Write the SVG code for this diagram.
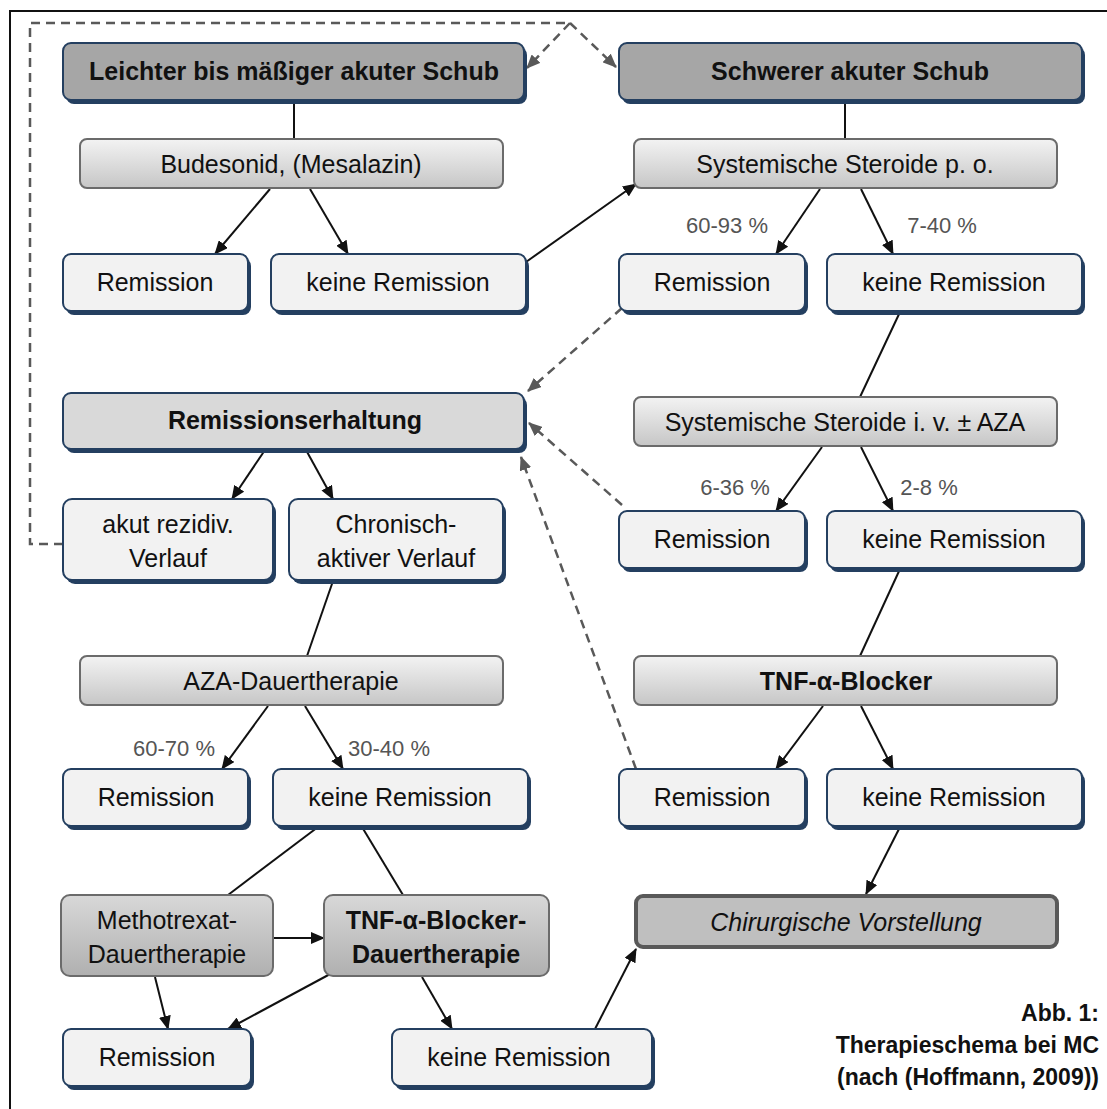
<svg xmlns="http://www.w3.org/2000/svg" width="1107" height="1109" viewBox="0 0 1107 1109">
<defs>
<linearGradient id="gg" x1="0" y1="0" x2="0" y2="1">
<stop offset="0" stop-color="#f3f3f3"/><stop offset="1" stop-color="#c6c6c6"/>
</linearGradient>
<linearGradient id="gd" x1="0" y1="0" x2="0" y2="1">
<stop offset="0" stop-color="#d8d8d8"/><stop offset="1" stop-color="#b0b0b0"/>
</linearGradient>
<marker id="ab" viewBox="0 0 14 12" refX="13" refY="6" markerWidth="14" markerHeight="12" markerUnits="userSpaceOnUse" orient="auto">
<path d="M0,0 L14,6 L0,12 Z" fill="#111"/>
</marker>
<marker id="ag" viewBox="0 0 14 12" refX="13" refY="6" markerWidth="14" markerHeight="12" markerUnits="userSpaceOnUse" orient="auto">
<path d="M0,0 L14,6 L0,12 Z" fill="#595959"/>
</marker>
</defs>
<style>
text{font-family:"Liberation Sans",Arial,sans-serif;font-size:25px;fill:#111;text-anchor:middle}
.b{font-weight:bold}
.i{font-style:italic}
.pc{font-size:22px;fill:#555}
.cap{font-size:23px;font-weight:bold;text-anchor:end}
.sh{fill:#243f60}
.nv{fill:#f2f2f2;stroke:#243f60;stroke-width:2}
.hd{fill:#a6a6a6;stroke:#243f60;stroke-width:2}
.re{fill:#d9d9d9;stroke:#243f60;stroke-width:2}
.gr{fill:url(#gg);stroke:#6b6b6b;stroke-width:2}
.gd{fill:url(#gd);stroke:#6b6b6b;stroke-width:2}
.ch{fill:#bfbfbf;stroke:#595959;stroke-width:4}
.ln{stroke:#111;stroke-width:2;fill:none}
.ar{stroke:#111;stroke-width:2;fill:none;marker-end:url(#ab)}
.da{stroke:#595959;stroke-width:2.5;fill:none;stroke-dasharray:9 6}
.dm{marker-end:url(#ag)}
</style>
<rect width="1107" height="1109" fill="#fff"/>
<path d="M10,1109 V11 H1107" fill="none" stroke="#111" stroke-width="2"/>

<g id="connectors">
<path class="da" d="M63,544 H30 V23 H570"/>
<path class="da dm" d="M570,23 L527,68"/>
<path class="da dm" d="M570,23 L616,67"/>
<path class="da dm" d="M622,308 L528,391"/>
<path class="da dm" d="M622,505 L529,423"/>
<path class="da dm" d="M636,769 L521,457"/>
<path class="ln" d="M294,101 V139"/>
<path class="ln" d="M845,101 V139"/>
<path class="ar" d="M270,189 L215,254"/>
<path class="ar" d="M310,189 L348,254"/>
<path class="ar" d="M526,262 L636,184"/>
<path class="ar" d="M820,189 L776,254"/>
<path class="ar" d="M861,189 L893,254"/>
<path class="ln" d="M900,312 L860,397"/>
<path class="ar" d="M265,450 L232,499"/>
<path class="ar" d="M306,450 L333,499"/>
<path class="ln" d="M333,581 L307,656"/>
<path class="ar" d="M822,447 L776,511"/>
<path class="ar" d="M861,447 L893,511"/>
<path class="ln" d="M900,569 L860,656"/>
<path class="ar" d="M823,706 L776,769"/>
<path class="ar" d="M861,706 L893,769"/>
<path class="ar" d="M900,827 L866,894"/>
<path class="ar" d="M268,706 L222,769"/>
<path class="ar" d="M305,706 L343,769"/>
<path class="ln" d="M318,827 L228,895"/>
<path class="ln" d="M362,827 L403,895"/>
<path class="ar" d="M273,938 L324,938"/>
<path class="ar" d="M155,977 L168,1029"/>
<path class="ar" d="M332,973 L228,1029"/>
<path class="ar" d="M422,977 L452,1029"/>
<path class="ar" d="M595,1029 L636,949"/>
</g>

<g id="n-leichter"><rect class="sh" x="66" y="47" width="461" height="57" rx="8"/><rect class="hd" x="63" y="43" width="461" height="57" rx="8"/><text class="b" x="294" y="80">Leichter bis mäßiger akuter Schub</text></g>
<g id="n-schwerer"><rect class="sh" x="622" y="47" width="463" height="57" rx="8"/><rect class="hd" x="619" y="43" width="463" height="57" rx="8"/><text class="b" x="850" y="80">Schwerer akuter Schub</text></g>
<g id="n-budesonid"><rect class="gr" x="80" y="139" width="423" height="49" rx="7"/><text x="291" y="173">Budesonid, (Mesalazin)</text></g>
<g id="n-steroide-po"><rect class="gr" x="634" y="139" width="423" height="49" rx="7"/><text x="845" y="173">Systemische Steroide p. o.</text></g>
<g id="n-rem1"><rect class="sh" x="66" y="258" width="185" height="57" rx="8"/><rect class="nv" x="63" y="254" width="185" height="57" rx="8"/><text x="155" y="291">Remission</text></g>
<g id="n-krem1"><rect class="sh" x="274" y="258" width="255" height="57" rx="8"/><rect class="nv" x="271" y="254" width="255" height="57" rx="8"/><text x="398" y="291">keine Remission</text></g>
<g id="n-rem2"><rect class="sh" x="622" y="258" width="186" height="57" rx="8"/><rect class="nv" x="619" y="254" width="186" height="57" rx="8"/><text x="712" y="291">Remission</text></g>
<g id="n-krem2"><rect class="sh" x="830" y="258" width="255" height="57" rx="8"/><rect class="nv" x="827" y="254" width="255" height="57" rx="8"/><text x="954" y="291">keine Remission</text></g>
<g id="n-erhaltung"><rect class="sh" x="66" y="397" width="461" height="56" rx="8"/><rect class="re" x="63" y="393" width="461" height="56" rx="8"/><text class="b" x="295" y="429">Remissionserhaltung</text></g>
<g id="n-steroide-iv"><rect class="gr" x="634" y="397" width="423" height="49" rx="7"/><text x="845" y="431">Systemische Steroide i. v. ± AZA</text></g>
<g id="n-akut"><rect class="sh" x="66" y="503" width="210" height="81" rx="9"/><rect class="nv" x="63" y="499" width="210" height="81" rx="9"/><text x="168" y="533">akut rezidiv.</text><text x="168" y="567">Verlauf</text></g>
<g id="n-chronisch"><rect class="sh" x="292" y="503" width="214" height="81" rx="9"/><rect class="nv" x="289" y="499" width="214" height="81" rx="9"/><text x="396" y="533">Chronisch-</text><text x="396" y="567">aktiver Verlauf</text></g>
<g id="n-rem3"><rect class="sh" x="622" y="515" width="186" height="57" rx="8"/><rect class="nv" x="619" y="511" width="186" height="57" rx="8"/><text x="712" y="548">Remission</text></g>
<g id="n-krem3"><rect class="sh" x="830" y="515" width="255" height="57" rx="8"/><rect class="nv" x="827" y="511" width="255" height="57" rx="8"/><text x="954" y="548">keine Remission</text></g>
<g id="n-aza"><rect class="gr" x="80" y="656" width="423" height="49" rx="7"/><text x="291" y="690">AZA-Dauertherapie</text></g>
<g id="n-tnf"><rect class="gr" x="634" y="656" width="423" height="49" rx="7"/><text class="b" x="846" y="690">TNF-α-Blocker</text></g>
<g id="n-rem4"><rect class="sh" x="66" y="773" width="185" height="57" rx="8"/><rect class="nv" x="63" y="769" width="185" height="57" rx="8"/><text x="156" y="806">Remission</text></g>
<g id="n-krem4"><rect class="sh" x="276" y="773" width="255" height="57" rx="8"/><rect class="nv" x="273" y="769" width="255" height="57" rx="8"/><text x="400" y="806">keine Remission</text></g>
<g id="n-rem5"><rect class="sh" x="622" y="773" width="186" height="57" rx="8"/><rect class="nv" x="619" y="769" width="186" height="57" rx="8"/><text x="712" y="806">Remission</text></g>
<g id="n-krem5"><rect class="sh" x="830" y="773" width="255" height="57" rx="8"/><rect class="nv" x="827" y="769" width="255" height="57" rx="8"/><text x="954" y="806">keine Remission</text></g>
<g id="n-mtx"><rect class="gd" x="61" y="895" width="212" height="81" rx="9"/><text x="167" y="929">Methotrexat-</text><text x="167" y="963">Dauertherapie</text></g>
<g id="n-tnf-dauer"><rect class="gd" x="324" y="895" width="225" height="81" rx="9"/><text class="b" x="436" y="929">TNF-α-Blocker-</text><text class="b" x="436" y="963">Dauertherapie</text></g>
<g id="n-chir"><rect class="ch" x="636" y="896" width="421" height="51" rx="7"/><text class="i" x="846" y="931">Chirurgische Vorstellung</text></g>
<g id="n-rem6"><rect class="sh" x="66" y="1033" width="188" height="57" rx="8"/><rect class="nv" x="63" y="1029" width="188" height="57" rx="8"/><text x="157" y="1066">Remission</text></g>
<g id="n-krem6"><rect class="sh" x="395" y="1033" width="260" height="57" rx="8"/><rect class="nv" x="392" y="1029" width="260" height="57" rx="8"/><text x="519" y="1066">keine Remission</text></g>

<g id="labels">
<text class="pc" x="727" y="233">60-93 %</text>
<text class="pc" x="942" y="233">7-40 %</text>
<text class="pc" x="735" y="495">6-36 %</text>
<text class="pc" x="929" y="495">2-8 %</text>
<text class="pc" x="174" y="756">60-70 %</text>
<text class="pc" x="389" y="756">30-40 %</text>
<text class="cap" x="1099" y="1021">Abb. 1:</text>
<text class="cap" x="1099" y="1053">Therapieschema bei MC</text>
<text class="cap" x="1099" y="1085">(nach (Hoffmann, 2009))</text>
</g>
</svg>
